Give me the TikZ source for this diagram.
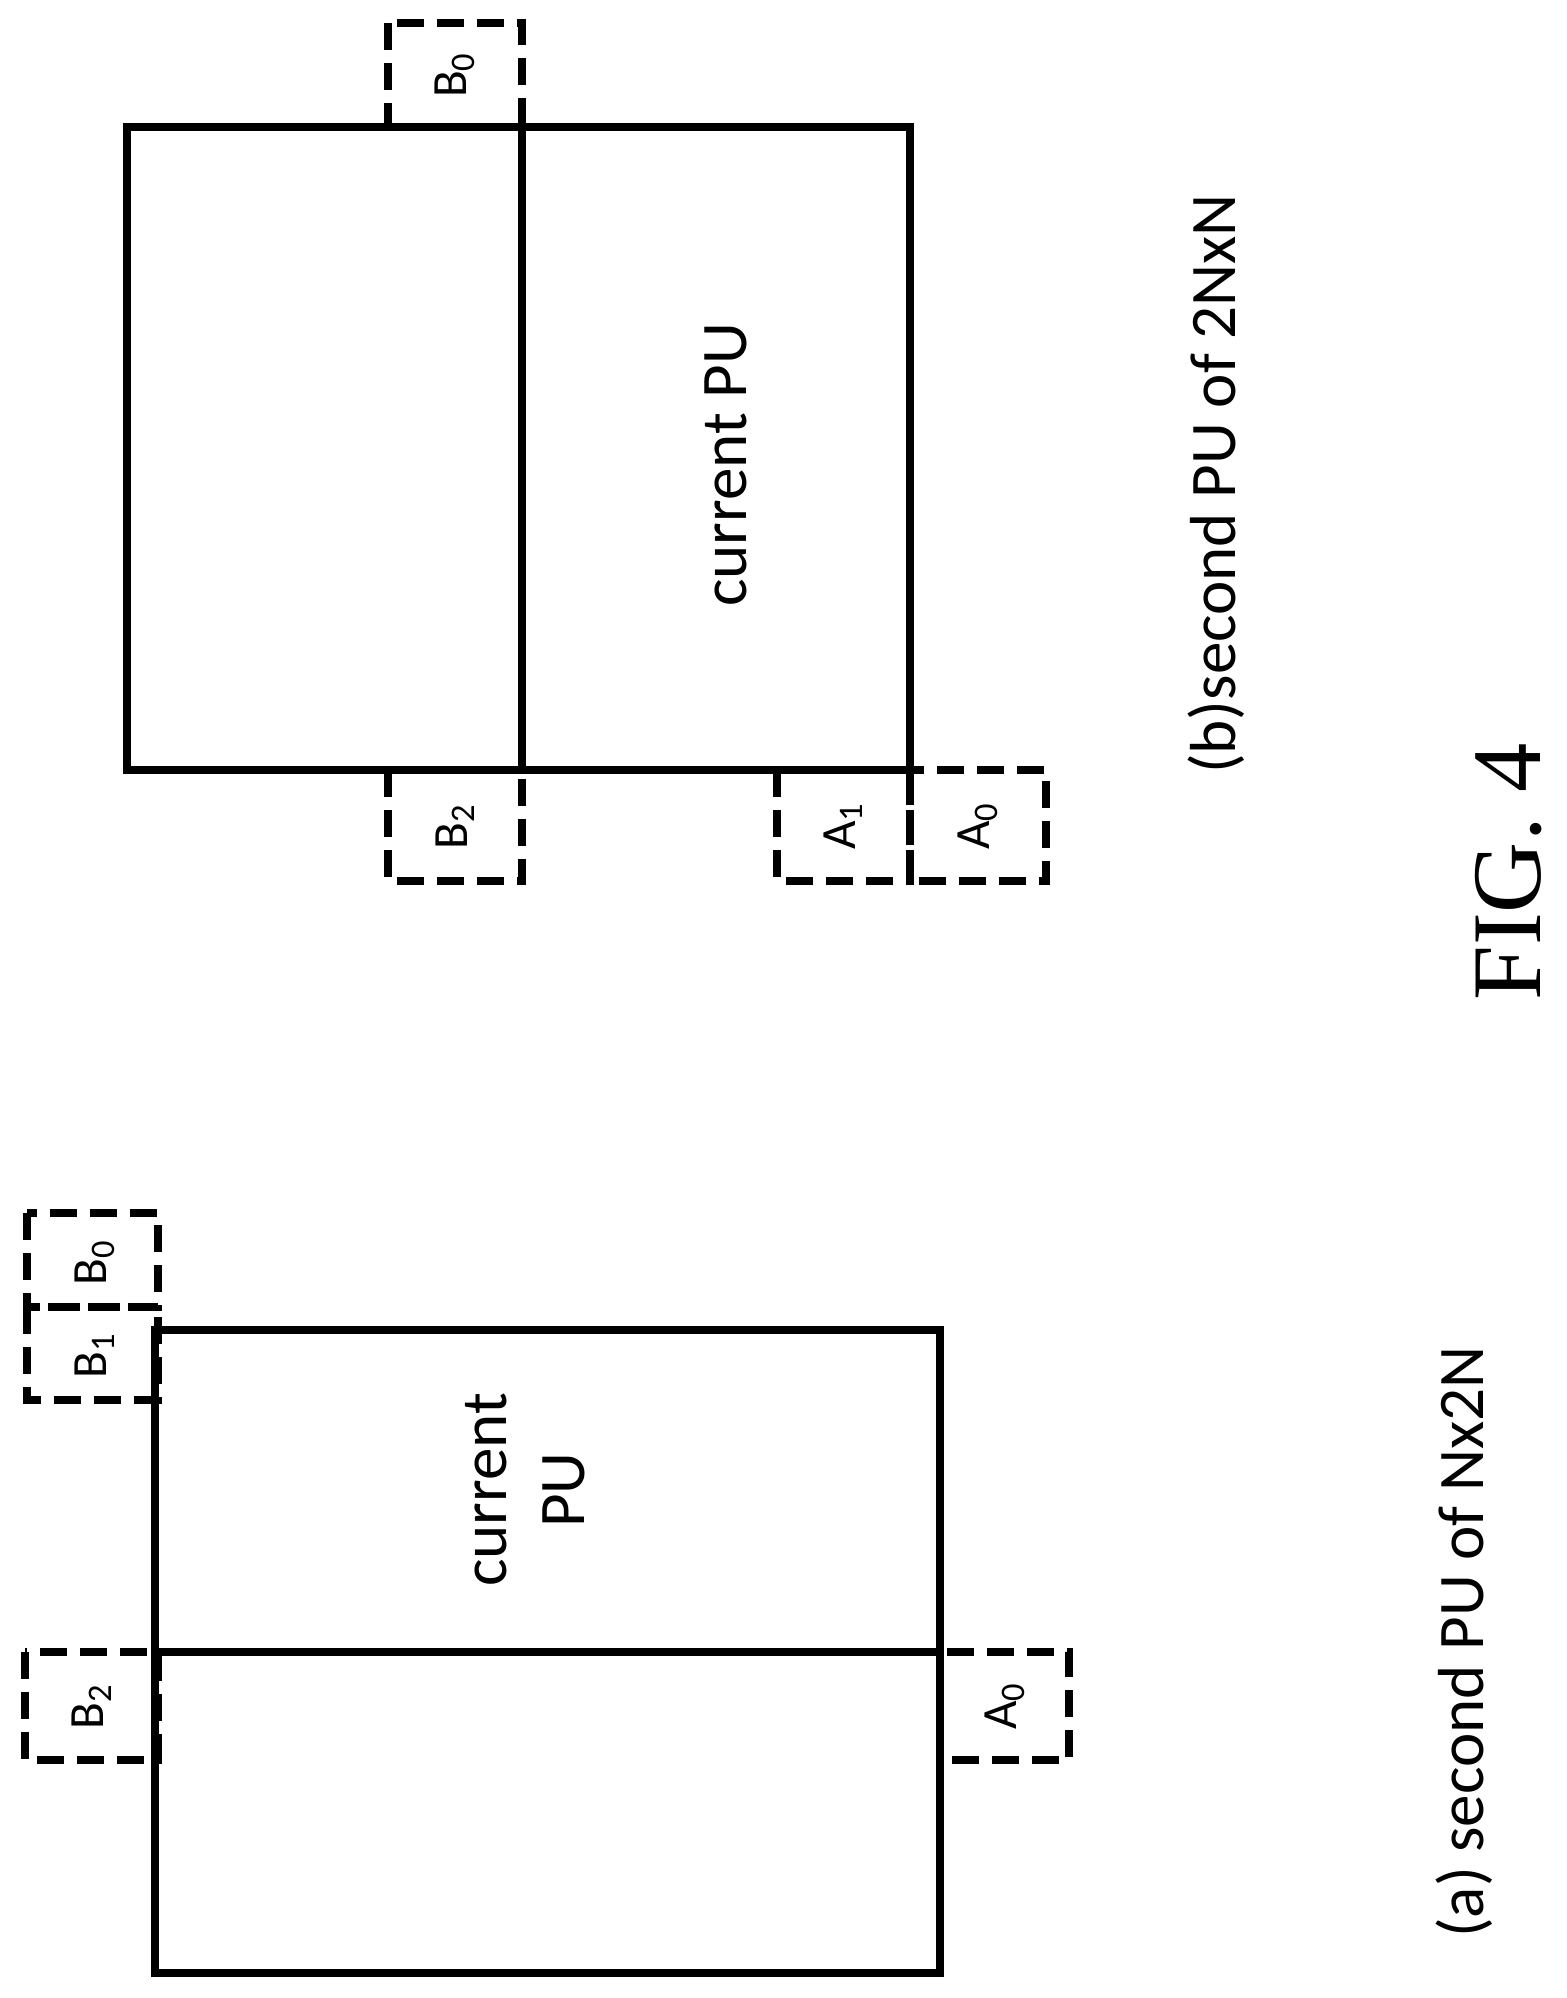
\documentclass[tikz,border=0pt]{standalone}
\usepackage{fontspec}
\setmainfont{Carlito}
\newfontfamily\serif{Liberation Serif}
\begin{document}
\begin{tikzpicture}[x=0.01cm,y=-0.01cm,
  solidl/.style={line width=0.085cm},
  dashl/.style={line width=0.08cm,dash pattern=on 0.27cm off 0.13cm},
  lbl/.style={rotate=90,font=\fontsize{14}{16}\selectfont},
  big/.style={rotate=90,font=\fontsize{18.5}{22}\selectfont,align=center}]
\useasboundingbox (0,0) rectangle (1566,1998);
% (a)
\draw[dashl] (27,1213) rectangle (158,1307);
\draw[dashl] (27,1307) rectangle (158,1400);
\draw[dashl] (25,1652) rectangle (158,1760);
\draw[dashl] (940,1652) rectangle (1069,1760);
\draw[solidl] (155,1330) rectangle (940,1973);
\draw[solidl] (155,1652) -- (940,1652);
\node[lbl] (ab0) at (95,1262) {B\textsubscript{0}};
\node[lbl] (ab1) at (95,1355) {B\textsubscript{1}};
\node[lbl] (ab2) at (92,1706) {B\textsubscript{2}};
\node[lbl] (aa0) at (1005,1706) {A\textsubscript{0}};
\node[big] (acur) at (525,1490) {current\\PU};
\node[big] (acap) at (1464,1642) {(a) second PU of Nx2N};
% (b)
\draw[dashl] (388,23) rectangle (522,127);
\draw[dashl] (388,770) rectangle (522,881);
\draw[dashl] (777,770) rectangle (910,881);
\draw[dashl] (910,770) rectangle (1046,881);
\draw[solidl] (127,127) rectangle (910,770);
\draw[solidl] (522,127) -- (522,770);
\node[lbl] (bb0) at (455,75) {B\textsubscript{0}};
\node[lbl] (bb2) at (455,826) {B\textsubscript{2}};
\node[lbl] (ba1) at (843,826) {A\textsubscript{1}};
\node[lbl] (ba0) at (978,826) {A\textsubscript{0}};
\node[big] (bcur) at (726,465) {current PU};
\node[big] (bcap) at (1216,484) {(b)second PU of 2NxN};
\node[rotate=90,font=\serif\fontsize{28}{32}\selectfont] (fig) at (1509,872) {FIG. 4};
\end{tikzpicture}
\end{document}
